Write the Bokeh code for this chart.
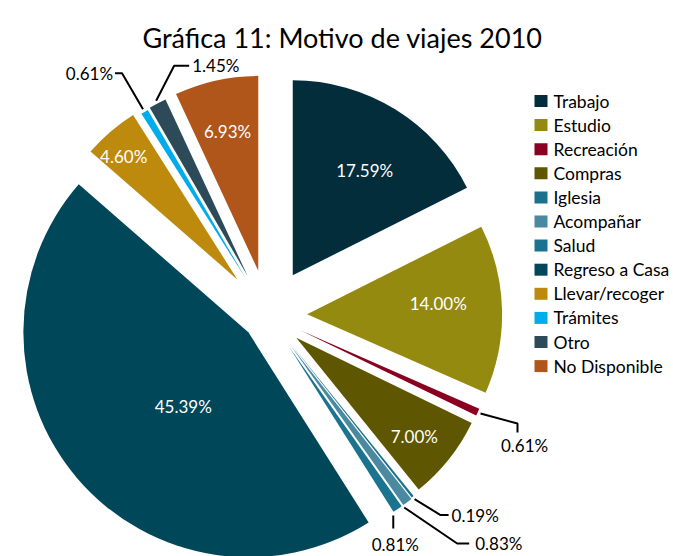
import math
from bokeh.plotting import figure
from bokeh.models import Range1d
from bokeh.core.properties import value
from bokeh.embed import file_html
from bokeh.resources import INLINE

# ---------------- data ----------------
title = "Gráfica 11: Motivo de viajes 2010"
categories = ["Trabajo", "Estudio", "Recreación", "Compras", "Iglesia", "Acompañar",
              "Salud", "Regreso a Casa", "Llevar/recoger", "Trámites", "Otro", "No Disponible"]
percent = [17.59, 14.00, 0.61, 7.00, 0.19, 0.83, 0.81, 45.39, 4.60, 0.61, 1.45, 6.93]

# ---------------- styles ----------------
colors = ["#032d3b", "#958a10", "#8a0020", "#5e5600", "#1a718b", "#4a89a0",
          "#1a7490", "#00475a", "#bd8a0d", "#00adea", "#2d4a58", "#b0561b"]
explode = [47, 39, 36, 36, 37, 38, 38, 26, 47, 43, 44, 45.5]     # px along bisector
radius = [195, 195, 195, 195, 195, 195, 195, 225, 195, 195, 195, 195]
# inside labels: (fraction of radius, angle nudge deg) ; None -> outside label
inside = [(0.65, 2.9), (0.675, -3.2), None, (0.79, 1.5), None, None, None,
          (0.44, -8.3), (0.86, -2.1), None, None, (0.73, 0.0)]
# outside labels: leader offsets from slice tip and text offset/alignment
outside = {
    2: ([(0, 0), (37, 10), (37, 19)], (44, 32), "center"),
    4: ([(0, 0), (26, 16), (34, 16)], (37, 16), "left"),
    5: ([(-5, 3), (48, 39), (60, 39)], (66, 39), "left"),
    6: ([(-6, 4), (-6, 17)], (-4, 33), "center"),
    9: ([(0, 0), (-21, -36), (-28, -36)], (-30, -36), "right"),
    10: ([(0, 0), (18, -35), (33, -35)], (36, -35), "left"),
}
FONT = "Lato"
W, H = 673, 556
CX, CY = 267.6, 314.8   # pie centre, screen px


def Y(sy):
    return H - sy


p = figure(width=W, height=H, x_range=Range1d(0, W), y_range=Range1d(0, H),
           output_backend="svg", toolbar_location=None, min_border=0)
p.axis.visible = False
p.grid.visible = False
p.outline_line_color = None
p.background_fill_color = "white"

total = sum(percent)
cum = 0.0
for i, v in enumerate(percent):
    a0 = cum / total * 360.0
    a1 = (cum + v) / total * 360.0
    cum += v
    mid = math.radians((a0 + a1) / 2)
    ux, uy = math.sin(mid), -math.cos(mid)          # screen direction (y down)
    ax, ay = CX + explode[i] * ux, CY + explode[i] * uy
    p.wedge(x=[ax], y=[Y(ay)], radius=radius[i],
            start_angle=math.radians(90 - a0), end_angle=math.radians(90 - a1),
            direction="clock", fill_color=colors[i], line_color=None)
    lab = f"{v:.2f}%"
    if inside[i] is not None:
        f, nud = inside[i]
        la = mid + math.radians(nud)
        lx = ax + f * radius[i] * math.sin(la)
        ly = ay - f * radius[i] * math.cos(la)
        p.text(x=[lx], y=[Y(ly)], text=[lab], text_color="white",
               text_font=value(FONT), text_font_size="17px",
               text_align="center", text_baseline="middle")
    else:
        pts, toff, align = outside[i]
        tx, ty = CX + (explode[i] + radius[i] + 3) * ux, CY + (explode[i] + radius[i] + 3) * uy
        p.line(x=[tx + dx for dx, dy in pts], y=[Y(ty + dy) for dx, dy in pts],
               line_color="black", line_width=2)
        p.text(x=[tx + toff[0]], y=[Y(ty + toff[1])], text=[lab], text_color="black",
               text_font=value(FONT), text_font_size="17px",
               text_align=align, text_baseline="middle")

# title
p.text(x=[342], y=[Y(37)], text=[title], text_color="black", text_font=value(FONT),
       text_font_size="27px", text_align="center", text_baseline="alphabetic")

# legend
for i, c in enumerate(categories):
    yy = 100.5 + 24.1 * i
    p.rect(x=[540.5], y=[Y(yy)], width=13, height=12, fill_color=colors[i], line_color=None)
    p.text(x=[553], y=[Y(yy)], text=[c], text_color="black", text_font=value(FONT),
           text_font_size="17.5px", text_align="left", text_baseline="middle")

open("out.html", "w").write(file_html(p, INLINE))
